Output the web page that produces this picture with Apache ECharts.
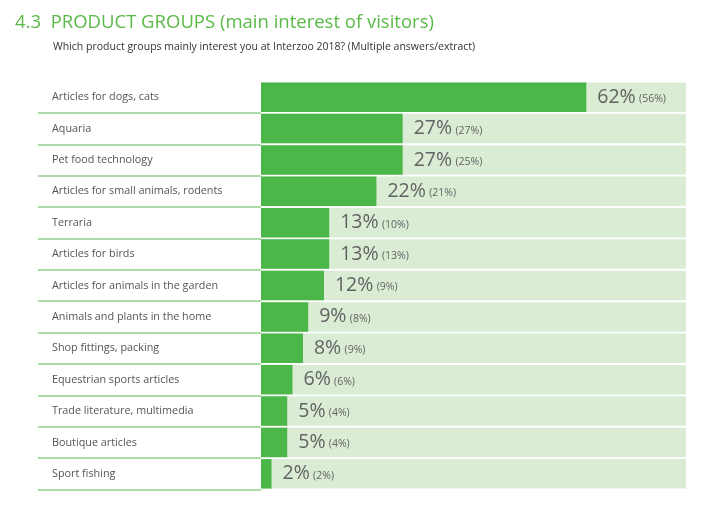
<!DOCTYPE html>
<html><head><meta charset="utf-8">
<script src="https://cdn.jsdelivr.net/npm/echarts@6/dist/echarts.min.js"></script>
<style>html,body{margin:0;padding:0;background:#fff}#c{width:720px;height:505px}</style>
</head><body><div id="c"></div>
<script>
const categories = ["Articles for dogs, cats","Aquaria","Pet food technology","Articles for small animals, rodents","Terraria","Articles for birds","Articles for animals in the garden","Animals and plants in the home","Shop fittings, packing","Equestrian sports articles","Trade literature, multimedia","Boutique articles","Sport fishing"];
const values2018 = [62,27,27,22,13,13,12,9,8,6,5,5,2];
const valuesPrev = [56,27,25,21,10,13,9,8,9,6,4,4,2];
const axisMax = 81;
const bgValues = categories.map(() => axisMax);

const chart = echarts.init(document.getElementById('c'), null, {renderer:'canvas'});
const TOP = 81.5, H = 408;
chart.setOption({
  animation:false,
  title:[
    {text:'4.3  PRODUCT GROUPS (main interest of visitors)', left:10, top:8,
     textStyle:{fontFamily:'Open Sans', fontWeight:'normal', fontSize:18.5, color:'#5ab947'}},
    {text:'Which product groups mainly interest you at Interzoo 2018? (Multiple answers/extract)', left:48, top:37,
     textStyle:{fontFamily:'Open Sans', fontWeight:'normal', fontSize:10.5, color:'#333'}}
  ],
  grid:[
    {left:38, width:223, top:TOP, height:H, containLabel:false},
    {left:261, right:34, top:TOP, height:H, containLabel:false}
  ],
  xAxis:[
    {gridIndex:0, type:'value', min:0, max:1, show:false},
    {gridIndex:1, type:'value', min:0, max:axisMax, show:false}
  ],
  yAxis:[
    {gridIndex:0, type:'category', data:categories, inverse:true,
     axisLine:{show:false}, axisTick:{show:false},
     axisLabel:{inside:true, margin:14, color:'#555', fontFamily:'Open Sans', fontSize:10.8},
     splitLine:{show:true, interval:(i)=>i!==0, lineStyle:{color:'#8fd08a', width:1.5}}},
    {gridIndex:1, type:'category', data:categories, inverse:true, show:false}
  ],
  series:[
    {type:'bar', xAxisIndex:1, yAxisIndex:1, data:bgValues, barWidth:29.5, barGap:'-100%',
     itemStyle:{color:'#daecd4'}, silent:true},
    {type:'bar', xAxisIndex:1, yAxisIndex:1, data:values2018, barWidth:29.5, barGap:'-100%',
     itemStyle:{color:'#4bb748'},
     label:{show:true, position:'right', distance:11,
       formatter:(p)=>'{a|'+p.value+'%} {b|('+valuesPrev[p.dataIndex]+'%)}',
       rich:{a:{fontFamily:'Open Sans', fontSize:19.5, color:'#636363'}, b:{fontFamily:'Open Sans', fontSize:10.5, color:'#636363', padding:[4,0,0,0]}}}}
  ]
});
</script></body></html>
